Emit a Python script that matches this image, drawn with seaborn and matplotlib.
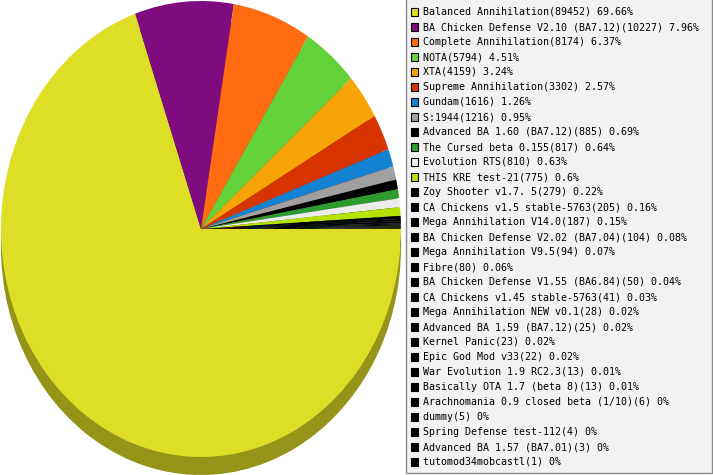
import matplotlib
matplotlib.use("Agg")
import matplotlib.pyplot as plt
import matplotlib.colors as mcolors
from matplotlib.patches import Rectangle
import seaborn as sns

mods = ["Balanced Annihilation", "BA Chicken Defense V2.10 (BA7.12)", "Complete Annihilation",
        "NOTA", "XTA", "Supreme Annihilation", "Gundam", "S:1944",
        "Advanced BA 1.60 (BA7.12)", "The Cursed beta 0.155", "Evolution RTS",
        "THIS KRE test-21", "Zoy Shooter v1.7. 5", "CA Chickens v1.5 stable-5763",
        "Mega Annihilation V14.0", "BA Chicken Defense V2.02 (BA7.04)", "Mega Annihilation V9.5",
        "Fibre", "BA Chicken Defense V1.55 (BA6.84)", "CA Chickens v1.45 stable-5763",
        "Mega Annihilation NEW v0.1", "Advanced BA 1.59 (BA7.12)", "Kernel Panic",
        "Epic God Mod v33", "War Evolution 1.9 RC2.3", "Basically OTA 1.7 (beta 8)",
        "Arachnomania 0.9 closed beta (1/10)", "dummy", "Spring Defense test-112",
        "Advanced BA 1.57 (BA7.01)", "tutomod34mobcastl"]
games = [89452, 10227, 8174, 5794, 4159, 3302, 1616, 1216, 885, 817, 810, 775, 279, 205,
         187, 104, 94, 80, 50, 41, 28, 25, 23, 22, 13, 13, 6, 5, 4, 3, 1]
percent = [69.66, 7.96, 6.37, 4.51, 3.24, 2.57, 1.26, 0.95, 0.69, 0.64, 0.63, 0.6, 0.22, 0.16,
           0.15, 0.08, 0.07, 0.06, 0.04, 0.03, 0.02, 0.02, 0.02, 0.02, 0.01, 0.01, 0, 0, 0, 0, 0]
colors = ["#dede26", "#7f0c7f", "#fe6b10", "#62d13a", "#f7a406", "#d83400", "#1482d2",
          "#a0a0a0", "#000000", "#2e9b2e", "#ececec", "#b6e200"] + ["#000000"] * 19

sns.set_style("white")
plt.rcParams['font.family'] = ['DejaVu Sans Mono', 'DejaVu Sans']

W, H = 713, 475
fig = plt.figure(figsize=(W / 100, H / 100), dpi=100)

# pie axes: 1 data unit = 200 px across, 228 px down (tilted look)
cx, cy, rx, ry, depth = 201, 229, 200, 228, 18
ax = fig.add_axes([0, 0, 1, 1])
dark = [tuple(c * 0.667 for c in mcolors.to_rgb(col)) for col in colors]
ax.pie(games, colors=dark, startangle=0, counterclock=False,
       center=(0, -depth / ry), wedgeprops=dict(linewidth=0))
ax.pie(games, colors=colors, startangle=0, counterclock=False,
       wedgeprops=dict(linewidth=0))
ax.set_aspect("auto")
ax.set_xlim(-cx / rx, (W - cx) / rx)
ax.set_ylim(-(H - cy) / ry, cy / ry)
ax.axis("off")

# legend box drawn in pixel coords
lg = fig.add_axes([0, 0, 1, 1])
lg.set_xlim(0, W)
lg.set_ylim(H, 0)
lg.axis("off")
lg.add_patch(Rectangle((405.5, -2), 306, 475, facecolor="#f2f2f2", edgecolor="#8a8a8a", lw=1))
for i, (name, n, p) in enumerate(zip(mods, games, percent)):
    y = 12 + i * 15
    lg.add_patch(Rectangle((410.5, y - 4), 7.5, 7.5, facecolor=colors[i], edgecolor="#000000", lw=0.8))
    lg.text(423, y, f"{name}({n}) {p:g}%", fontsize=7.2, va="center", ha="left", color="#000000")

fig.savefig("out.png", dpi=100)
